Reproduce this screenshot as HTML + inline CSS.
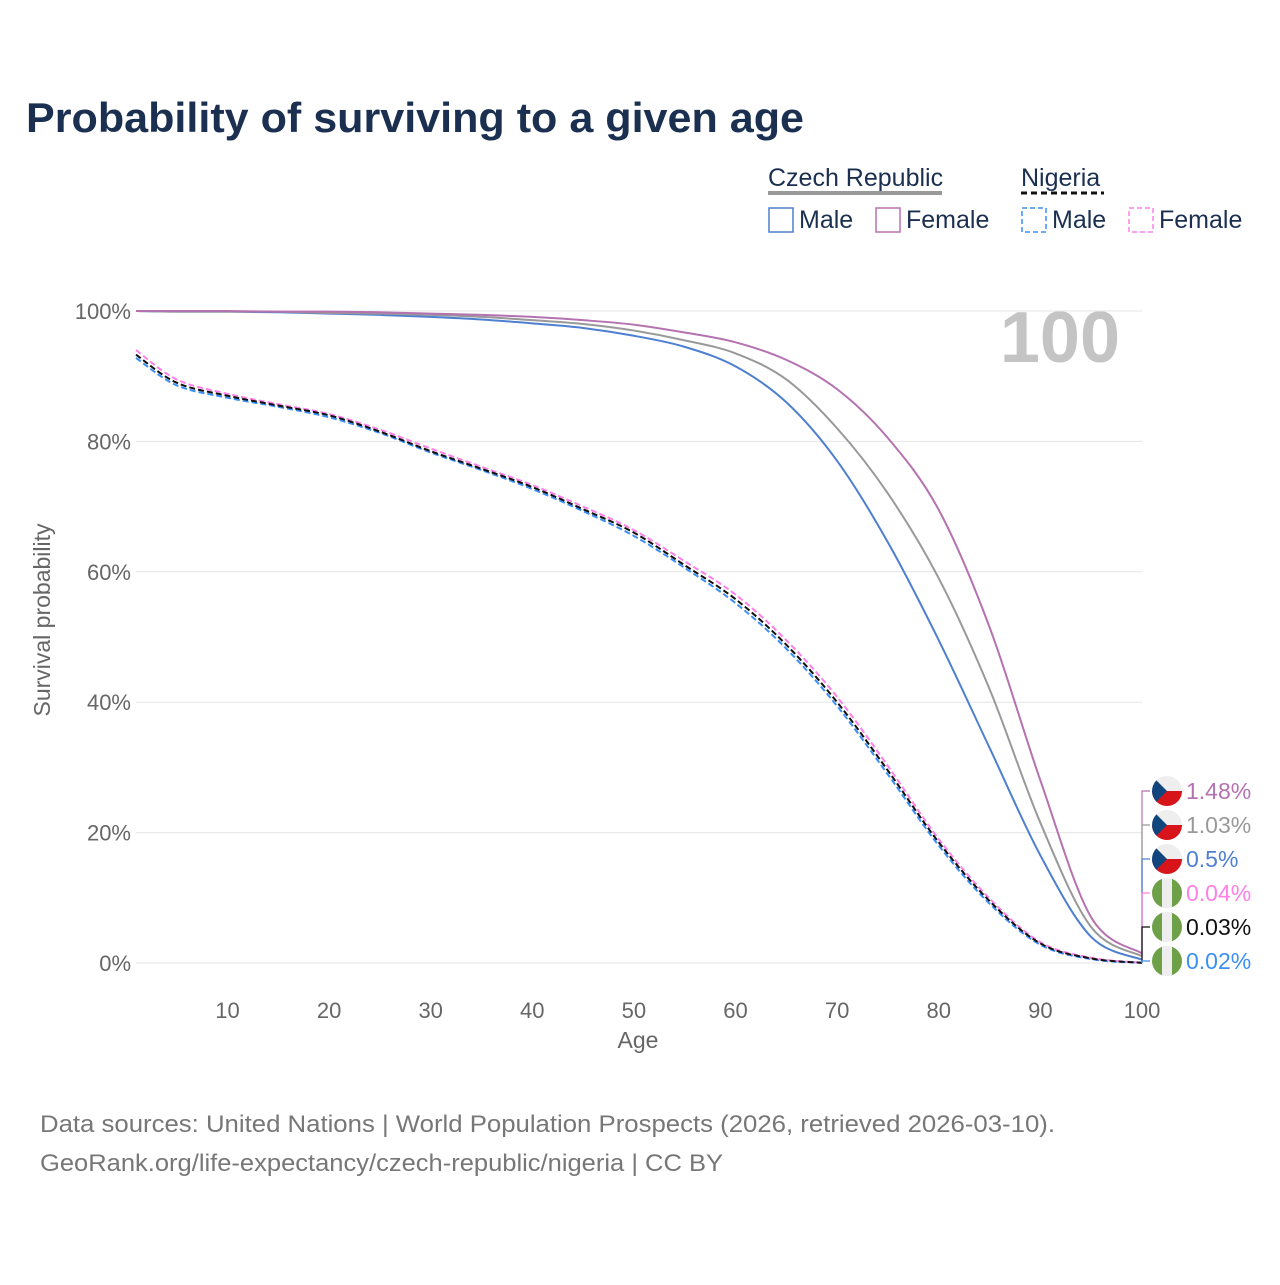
<!DOCTYPE html>
<html><head><meta charset="utf-8"><style>
body{margin:0;background:#fff;font-family:"Liberation Sans",sans-serif}
svg text{font-family:"Liberation Sans",sans-serif}
</style></head><body>
<svg id="c" width="1280" height="1280" viewBox="0 0 1280 1280">
<text x="26" y="132" font-size="42" font-weight="bold" fill="#1b3050" textLength="778" lengthAdjust="spacingAndGlyphs">Probability of surviving to a given age</text>
<g>
<text x="768" y="186" font-size="25" fill="#1b3050">Czech Republic</text>
<line x1="768" y1="193" x2="942" y2="193" stroke="#999" stroke-width="4"/>
<text x="1021" y="186" font-size="25" fill="#1b3050">Nigeria</text>
<line x1="1021" y1="193" x2="1104" y2="193" stroke="#111" stroke-width="3" stroke-dasharray="6,4"/>
<g><rect x="769" y="208" width="24" height="24" fill="none" stroke="#4e7fd0" stroke-width="1.5"/><text x="799" y="228" font-size="25" fill="#1b3050">Male</text></g>
<g><rect x="876" y="208" width="24" height="24" fill="none" stroke="#b572b0" stroke-width="1.5"/><text x="906" y="228" font-size="25" fill="#1b3050">Female</text></g>
<g><rect x="1022" y="208" width="24" height="24" fill="none" stroke="#3b8ff5" stroke-width="1.5" stroke-dasharray="5,3"/><text x="1052" y="228" font-size="25" fill="#1b3050">Male</text></g>
<g><rect x="1129" y="208" width="24" height="24" fill="none" stroke="#ff80e8" stroke-width="1.5" stroke-dasharray="5,3"/><text x="1159" y="228" font-size="25" fill="#1b3050">Female</text></g>
</g>
<text x="1120" y="362" font-size="72" font-weight="bold" fill="#c4c4c4" text-anchor="end">100</text>
<g id="grid"></g><g id="lines"></g><g id="labels"></g>
<text x="638" y="1048" font-size="23" fill="#666" text-anchor="middle">Age</text>
<text transform="translate(50,620) rotate(-90)" font-size="23" fill="#666" text-anchor="middle">Survival probability</text>
<text x="40" y="1132" font-size="24" fill="#777" textLength="1015" lengthAdjust="spacingAndGlyphs">Data sources: United Nations | World Population Prospects (2026, retrieved 2026-03-10).</text>
<text x="40" y="1171" font-size="24" fill="#777" textLength="683" lengthAdjust="spacingAndGlyphs">GeoRank.org/life-expectancy/czech-republic/nigeria | CC BY</text>
</svg>
<script>
const ages=[1,5,10,15,20,25,30,35,40,45,50,55,60,65,70,75,80,85,90,95,100];
const czMale=[100,99.9,99.9,99.8,99.6,99.4,99.1,98.7,98.1,97.4,96.2,94.5,91.5,86,77,64.5,49.5,33,16.5,4,0.5];
const czAll=[100,99.9,99.9,99.9,99.7,99.6,99.4,99.1,98.6,98,97,95.5,93.5,89.5,82,72,59,42,21.5,5.5,1.03];
const czFemale=[100,100,100,99.9,99.9,99.8,99.6,99.4,99.1,98.6,97.9,96.7,95.2,92.5,88,80.5,69.5,51.5,28,7,1.48];
const ngMale=[92.8,88.6,86.7,85.3,83.7,81.3,78.3,75.6,72.7,69.3,65.5,60.6,55.2,48.2,39.4,28.9,18.0,9.1,2.8,0.6,0.02];
const ngAll=[93.3,89.0,87.0,85.5,84.0,81.5,78.5,75.8,73.0,69.6,66.0,61.0,55.8,48.8,40.0,29.5,18.5,9.5,3.0,0.7,0.03];
const ngFemale=[94.0,89.5,87.3,85.7,84.2,81.8,78.9,76.1,73.3,70.0,66.4,61.6,56.5,49.5,40.8,30.2,19.0,9.9,3.2,0.8,0.04];
const yTicks=[0,20,40,60,80,100];
const xTicks=[10,20,30,40,50,60,70,80,90,100];
const X=a=>136+(a-1)*(1006/99), Y=v=>963-v*6.52;
const NS='http://www.w3.org/2000/svg';
function mk(t,at,p){const e=document.createElementNS(NS,t);for(const k in at)e.setAttribute(k,at[k]);p.appendChild(e);return e;}
const grid=document.getElementById('grid');
yTicks.forEach(v=>{
 const l=mk('line',{x1:136,x2:1142,y1:Y(v),y2:Y(v),stroke:'#e6e6e6','stroke-width':1},grid);
 
 
 const t=mk('text',{x:131,y:Y(v)+8,'font-size':22,fill:'#666','text-anchor':'end'},grid);t.textContent=v+'%';
 
 
});
xTicks.forEach(a=>{
 const t=mk('text',{x:X(a),y:1018,'font-size':22,fill:'#666','text-anchor':'middle'},grid);t.textContent=a;
 
 
});
function path(vals){const p=ages.map((a,i)=>[X(a),Y(vals[i])]);let d='M'+p[0];
 for(let i=0;i<p.length-1;i++){const p0=p[i-1]||p[i],p1=p[i],p2=p[i+1],p3=p[i+2]||p2;
 d+=' C'+(p1[0]+(p2[0]-p0[0])/6)+','+(p1[1]+(p2[1]-p0[1])/6)+' '+(p2[0]-(p3[0]-p1[0])/6)+','+(p2[1]-(p3[1]-p1[1])/6)+' '+p2;}return d;}
const lines=document.getElementById('lines');
const series=[['nigeria-male',ngMale,'#3b8ff5','6,3'],['nigeria-female',ngFemale,'#ff80e8','6,3'],['nigeria-total',ngAll,'#111','6,3'],
 ['czech-male',czMale,'#4e7fd0',''],['czech-total',czAll,'#999',''],['czech-female',czFemale,'#b572b0','']];
series.forEach(s=>{const e=mk('path',{d:path(s[1]),fill:'none',stroke:s[2],'stroke-width':2,'stroke-dasharray':s[3]},lines);
 
 });
const lab=document.getElementById('labels');
const ends=[['czech-female',czFemale,'#b572b0',792,'1.48%','cz'],['czech-total',czAll,'#999',826,'1.03%','cz'],['czech-male',czMale,'#4e7fd0',860,'0.5%','cz'],
 ['nigeria-female',ngFemale,'#ff80e8',894,'0.04%','ng'],['nigeria-total',ngAll,'#111',928,'0.03%','ng'],['nigeria-male',ngMale,'#3b8ff5',962,'0.02%','ng']];
ends.forEach(s=>{const ly=s[3]-1,vy=Y(s[1][s[1].length-1]);
 mk('polyline',{points:`1142,${vy} 1142,${ly} 1150,${ly}`,fill:'none',stroke:s[2],'stroke-width':1.2},lab);
 const g=mk('g',{},lab);
 
 
 const cx=1167,r=15;
 if(s[5]=='cz'){mk('circle',{cx,cy:ly,r,fill:'#eee'},g);
  mk('path',{d:`M${cx-r},${ly} A${r},${r} 0 0 0 ${cx+r},${ly} Z`,fill:'#d7141a'},g);
  mk('path',{d:`M${cx-10.6},${ly-10.6} L${cx},${ly} L${cx-10.6},${ly+10.6} A${r},${r} 0 0 1 ${cx-10.6},${ly-10.6}Z`,fill:'#11457e'},g);
 }else{mk('circle',{cx,cy:ly,r,fill:'#6ea047'},g);mk('rect',{x:cx-5,y:ly-r,width:10,height:2*r,fill:'#eee'},g);}
 const t=mk('text',{x:1186,y:ly+8,'font-size':23,fill:s[2]},g);t.textContent=s[4];
});
</script>
</body></html>
